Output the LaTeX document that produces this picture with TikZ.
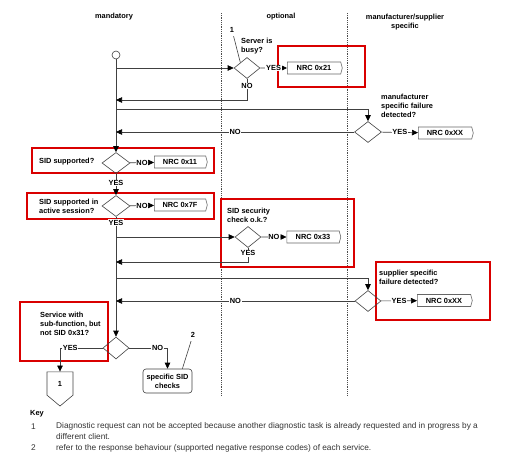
\documentclass[tikz,border=0pt]{standalone}
\usepackage{fontspec}
\setmainfont{Liberation Sans}
\usetikzlibrary{arrows.meta, calc, shapes.geometric, shapes.symbols}

\begin{document}
\begin{tikzpicture}[x=1pt, y=-1pt, font=\fontsize{7.4}{9}\selectfont\bfseries,
    line/.style={draw=black!75, line width=0.6pt},
    arr/.style={line, -{Triangle[length=6pt,width=5.5pt,color=black]}},
    dec/.style={diamond, draw=black!75, line width=0.6pt, minimum width=26pt, minimum height=21pt, inner sep=0pt},
    nrc/.style={signal, signal to=east, signal pointer angle=150, draw=black!60, line width=0.6pt, minimum width=55pt, minimum height=12pt, inner sep=1pt},
    lbl/.style={fill=white, inner sep=0.8pt},
    txt/.style={align=left, anchor=west, inner sep=0pt},
    redbox/.style={draw=red!85!black, line width=1.3pt},
    lane/.style={draw=black!70, dash pattern=on 0.8pt off 1pt, line width=0.6pt},
    keytext/.style={font=\fontsize{8.3}{10.5}\selectfont, text=black!80, inner sep=0pt}]
    \useasboundingbox (0,0) rectangle (507,461);
    % lanes
    \draw[lane] (221,13) -- (221,395);
    \draw[lane] (347,13) -- (347,395);
    \node (hMand) at (114,17) {mandatory};
    \node (hOpt) at (281,17) {optional};
    \node[align=center] (hSpec) at (405,22) {manufacturer/supplier\\specific};
    % red marks
    \draw[redbox] (278,46) rectangle (365,87);
    \draw[redbox] (32,148) rectangle (214,173);
    \draw[redbox] (27,193) rectangle (214,219);
    \draw[redbox] (221,199) rectangle (354,267);
    \draw[redbox] (376,262) rectangle (490,320);
    \draw[redbox] (20,302) rectangle (108,361);
    % nodes
    \node[circle, draw=black!75, line width=0.6pt, minimum size=8pt, inner sep=0pt] (start) at (116,55) {};
    \node[dec] (busy) at (247,68) {};
    \node[txt] (tBusy) at (241,46.5) {Server is\\busy?};
    \node[nrc] (nrc21) at (314,68) {NRC 0x21};
    \node (k1) at (232,30) {1};
    \node[dec, minimum width=27pt] (mfr) at (368,132) {};
    \node[txt] (tMfr) at (381,106) {manufacturer\\specific failure\\detected?};
    \node[nrc] (nrcXXa) at (445,133) {NRC 0xXX};
    \node[dec, minimum width=28pt] (sid1) at (116,163) {};
    \node[txt] (tSid1) at (39,162) {SID supported?};
    \node[nrc, minimum width=53pt] (nrc11) at (180,162) {NRC 0x11};
    \node[dec, minimum width=28pt] (sid2) at (116,206) {};
    \node[txt] (tSid2) at (39,206) {SID supported in\\active session?};
    \node[nrc, minimum width=53pt] (nrc7F) at (180,205) {NRC 0x7F};
    \node[dec] (sec) at (248,237) {};
    \node[txt] (tSec) at (227,215.5) {SID security\\check o.k.?};
    \node[nrc, minimum width=54pt] (nrc33) at (313,237) {NRC 0x33};
    \node[dec] (sup) at (368,301) {};
    \node[txt] (tSup) at (379,277) {supplier specific\\failure detected?};
    \node[nrc] (nrcXXb) at (444,300.5) {NRC 0xXX};
    \node[dec, minimum height=22pt] (svc) at (116,348) {};
    \node[txt] (tSvc) at (40,324) {Service with\\sub-function, but\\not SID 0x31?};
    \node[signal, signal to=south, signal from=nowhere, signal pointer angle=100, draw=black!75, line width=0.6pt, minimum width=26pt, minimum height=25pt, inner sep=0pt] (off1) at (60,383.5) {1};
    \node[draw=black!75, line width=0.6pt, rounded corners=3pt, minimum width=49pt, minimum height=24pt, align=center, inner sep=1pt] (sidChk) at (167.5,381) {specific SID\\checks};
    \node (k2) at (193,335) {2};
    % joints on the main line
    \coordinate (m1) at (116,68);
    \coordinate (m2) at (116,100);
    \coordinate (m3) at (116,109);
    \coordinate (m4) at (116,132);
    \coordinate (m5) at (116,237);
    \coordinate (m6) at (116,262);
    \coordinate (m7) at (116,278);
    \coordinate (m8) at (116,301);
    % connectors
    \draw[arr] (start) -- (sid1);
    \draw[arr] (sid1) -- node[lbl, pos=0.43]{YES} (sid2);
    \draw[arr] (sid2) -- node[lbl, pos=0.05]{YES} (svc);
    \draw[arr] (m1) -- (busy);
    \draw[arr] (busy) -- node[lbl]{YES} (nrc21);
    \draw[arr] (busy) |- node[lbl, pos=0.17]{NO} (m2);
    \draw[arr] (m3) -| (mfr);
    \draw[arr] (mfr) -- node[lbl]{YES} (nrcXXa);
    \draw[arr] (mfr) -- node[lbl]{NO} (m4);
    \draw[arr] (sid1) -- node[lbl]{NO} (nrc11);
    \draw[arr] (sid2) -- node[lbl]{NO} (nrc7F);
    \draw[arr] (m5) -- (sec);
    \draw[arr] (sec) -- node[lbl]{NO} (nrc33);
    \draw[arr] (sec) |- node[lbl, pos=0.19]{YES} (m6);
    \draw[arr] (m7) -| (sup);
    \draw[arr] (sup) -- node[lbl]{YES} (nrcXXb);
    \draw[arr] (sup) -- node[lbl]{NO} (m8);
    \draw[arr] (svc) -| node[lbl, pos=0.38]{YES} (off1);
    \draw[arr] (svc) -| node[lbl, pos=0.37]{NO} (sidChk);
    \draw[line] (k1) -- (busy.north west);
    \draw[line] (k2) -- ($(sidChk.north)!0.6!(sidChk.north east)$);
    % key
    \node[anchor=west, inner sep=0pt] (kKey) at (30,414) {Key};
    \node[keytext, anchor=west] (k1n) at (31,427) {1};
    \node[keytext, anchor=north west, align=left] (k1t) at (56,422.5) {Diagnostic request can not be accepted because another diagnostic task is already requested and in progress by a\\different client.};
    \node[keytext, anchor=west] (k2n) at (31,448) {2};
    \node[keytext, anchor=west] (k2t) at (56,448) {refer to the response behaviour (supported negative response codes) of each service.};
\end{tikzpicture}
\end{document}
